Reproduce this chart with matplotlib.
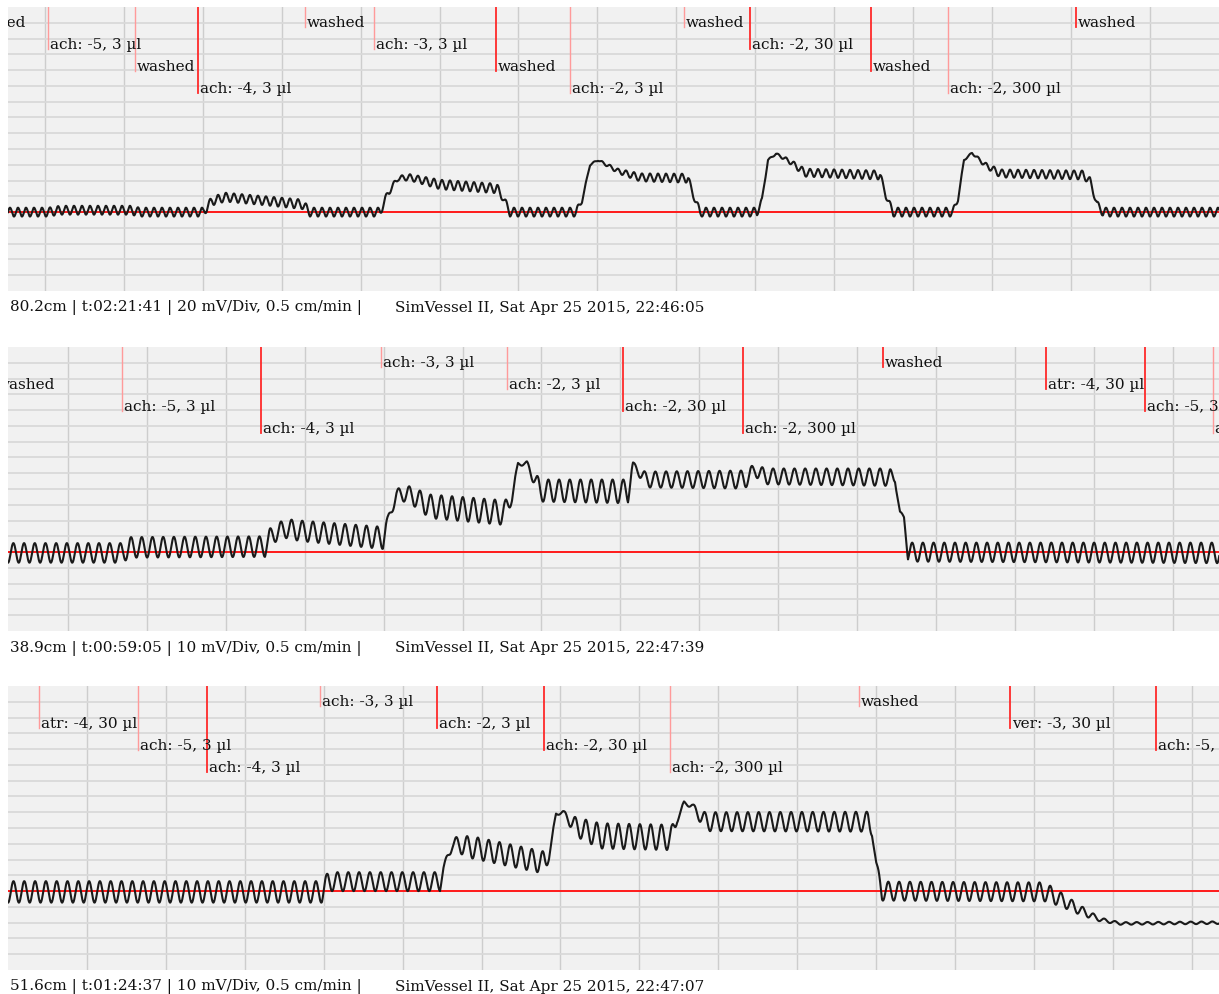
""" three organ-bath traces (SimVessel II) with drug markers """
import numpy as np
import matplotlib
matplotlib.use("Agg")
from matplotlib import pyplot as plt

# ---- trace data: x (px along the strip), baseline level (div), oscillation amplitude (div)
p1_x = [8, 48, 60, 130, 140, 203, 212, 225, 260, 302, 310, 380, 388, 398, 410, 440, 497, 503, 510,
        576, 582, 590, 598, 618, 640, 688, 693, 700, 757, 762, 768, 776, 790, 805, 880, 886, 893,
        953, 958, 964, 972, 985, 1000, 1083, 1090, 1097, 1103, 1220]
p1_level = [0, 0, 0.12, 0.12, 0, 0, 0.7, 0.95, 0.75, 0.5, 0, 0, 1.2, 2.15, 2.2, 1.75, 1.5, 0.9, 0,
            0, 0.7, 3.0, 3.3, 2.6, 2.2, 2.15, 1.1, 0, 0, 0.8, 3.3, 3.7, 3.2, 2.5, 2.35, 1.0, 0,
            0, 0.8, 3.3, 3.75, 3.0, 2.45, 2.35, 2.0, 0.5, 0, 0]
p1_amp = [0.28, 0.28, 0.28, 0.28, 0.28, 0.28, 0.28, 0.28, 0.28, 0.3, 0.28, 0.28, 0.2, 0.15, 0.2,
          0.3, 0.3, 0.2, 0.28, 0.28, 0.1, 0.05, 0.05, 0.15, 0.25, 0.28, 0.15, 0.28, 0.28, 0.1, 0.05,
          0.05, 0.15, 0.25, 0.28, 0.15, 0.28, 0.28, 0.1, 0.05, 0.05, 0.15, 0.25, 0.28, 0.2, 0.2,
          0.28, 0.28]

p2_x = [8, 122, 130, 265, 270, 285, 300, 383, 388, 396, 408, 430, 505, 512, 518, 527, 540, 628,
        633, 645, 745, 755, 765, 890, 895, 900, 904, 908, 1220]
p2_level = [-0.05, -0.05, 0.3, 0.35, 1.0, 1.5, 1.35, 0.9, 2.0, 3.6, 3.7, 2.9, 2.5, 3.5, 5.6, 5.6,
            3.9, 3.85, 5.6, 4.6, 4.6, 5.2, 4.8, 4.75, 4.6, 2.5, 2.2, 0, -0.05]
p2_amp = [0.62, 0.62, 0.65, 0.65, 0.5, 0.6, 0.65, 0.7, 0.3, 0.4, 0.5, 0.75, 0.78, 0.3, 0.1, 0.15,
          0.7, 0.75, 0.1, 0.5, 0.57, 0.4, 0.5, 0.55, 0.2, 0.1, 0.1, 0.6, 0.65]

p3_x = [8, 322, 328, 440, 444, 452, 470, 545, 549, 556, 563, 575, 600, 672, 677, 684, 692, 705,
        868, 872, 876, 882, 1045, 1060, 1080, 1100, 1120, 1220]
p3_level = [-0.05, -0.05, 0.6, 0.6, 1.5, 3.0, 2.8, 1.8, 2.2, 4.9, 5.0, 4.1, 3.5, 3.4, 4.5, 5.6,
            5.4, 4.4, 4.4, 3.8, 1.8, 0, -0.05, -0.5, -1.2, -1.8, -2.05, -2.0]
p3_amp = [0.68, 0.68, 0.6, 0.6, 0.2, 0.4, 0.7, 0.7, 0.2, 0.1, 0.1, 0.6, 0.8, 0.8, 0.2, 0.1, 0.15,
          0.6, 0.63, 0.3, 0.1, 0.6, 0.6, 0.45, 0.3, 0.12, 0.08, 0.08]

periods = [8.0, 10.7, 10.8]

# ---- event markers
p1_marks = ["washed", "ach: -5, 3 µl", "washed", "ach: -4, 3 µl", "washed", "ach: -3, 3 µl",
            "washed", "ach: -2, 3 µl", "washed", "ach: -2, 30 µl", "washed", "ach: -2, 300 µl",
            "washed"]
p1_mark_x = [-34, 48, 135, 198, 305, 374, 496, 570, 684, 750, 871, 948, 1076]
p1_strong = [1, 0, 0, 1, 0, 0, 1, 0, 0, 1, 1, 0, 1]

p2_marks = ["washed", "ach: -5, 3 µl", "ach: -4, 3 µl", "ach: -3, 3 µl", "ach: -2, 3 µl",
            "ach: -2, 30 µl", "ach: -2, 300 µl", "washed", "atr: -4, 30 µl", "ach: -5, 3 µl",
            "ach: -4, 3 µl"]
p2_mark_x = [-5, 122, 261, 381, 507, 623, 743, 883, 1046, 1145, 1213]
p2_strong = [0, 0, 1, 0, 0, 1, 1, 1, 1, 1, 0]

p3_marks = ["atr: -4, 30 µl", "ach: -5, 3 µl", "ach: -4, 3 µl", "ach: -3, 3 µl", "ach: -2, 3 µl",
            "ach: -2, 30 µl", "ach: -2, 300 µl", "washed", "ver: -3, 30 µl", "ach: -5, 3 µl"]
p3_mark_x = [39, 138, 207, 320, 437, 544, 670, 859, 1010, 1156]
p3_strong = [0, 0, 1, 0, 1, 1, 0, 0, 1, 1]

footers = ["80.2cm | t:02:21:41 | 20 mV/Div, 0.5 cm/min |",
           "38.9cm | t:00:59:05 | 10 mV/Div, 0.5 cm/min |",
           "51.6cm | t:01:24:37 | 10 mV/Div, 0.5 cm/min |"]
stamps = ["SimVessel II, Sat Apr 25 2015, 22:46:05",
          "SimVessel II, Sat Apr 25 2015, 22:47:39",
          "SimVessel II, Sat Apr 25 2015, 22:47:07"]

W, H = 1219, 995
tops = [8, 348, 687]
ax_h = 284
grid_start = [45, 68, 87]
grid_step = 78.9
first_row = [0, 1, 1]
font = "DejaVu Serif"

panels = [(p1_x, p1_level, p1_amp, p1_marks, p1_mark_x, p1_strong),
          (p2_x, p2_level, p2_amp, p2_marks, p2_mark_x, p2_strong),
          (p3_x, p3_level, p3_amp, p3_marks, p3_mark_x, p3_strong)]

fig = plt.figure(figsize=(W / 100, H / 100), dpi=100)
for i, (px, lev, amp, marks, mx, strong) in enumerate(panels):
    ax = fig.add_axes([8 / W, 1 - (tops[i] + ax_h) / H, (W - 8) / W, ax_h / H])
    ax.set_facecolor("#f1f1f1")
    for s in ax.spines.values():
        s.set_visible(False)
    ax.set_xlim(8, W)
    ax.set_ylim(-5, 13)
    ax.set_xticks(np.arange(grid_start[i], W, grid_step))
    ax.set_yticks(np.arange(-4, 13, 1))
    ax.tick_params(length=0, labelbottom=False, labelleft=False)
    ax.grid(axis="y", color="#d9d9d9", lw=1.3)
    ax.grid(axis="x", color="#cdcdcd", lw=1.0)
    ax.set_axisbelow(True)

    # recorded trace
    xs = np.arange(8, W + 1, 0.25)
    center = np.interp(xs, px, lev)
    a = np.interp(xs, px, amp)
    ax.plot(xs, center + a * np.sin(2 * np.pi * xs / periods[i]), color="#1a1a1a", lw=1.5, zorder=4)
    ax.axhline(0, color="#ff1a1a", lw=1.4, zorder=3)

    # drug / wash markers
    tr = ax.get_xaxis_transform()
    for j, (lab, x) in enumerate(zip(marks, mx)):
        row = (j + first_row[i]) % 4
        y_end = 1 - (20 + 22 * row) / ax_h
        y_txt = 1 - (15 + 22 * row) / ax_h
        if strong[j]:
            ax.plot([x, x], [1, y_end], transform=tr, color="#ff2a2a", lw=1.3, zorder=5)
        else:
            ax.plot([x, x], [1, y_end], transform=tr, color="#ff9a9a", lw=1.0, zorder=5)
        ax.text(x + 2, y_txt, lab, transform=tr, family=font, fontsize=11, color="#111111",
                va="center", ha="left", clip_on=True, zorder=6)

    fy = 1 - (tops[i] + ax_h + 16) / H
    fig.text(10 / W, fy, footers[i], family=font, fontsize=11, color="#111111", va="center")
    fig.text(395 / W, fy, stamps[i], family=font, fontsize=11, color="#111111", va="center")

fig.savefig("out.png", dpi=100, facecolor="white")
